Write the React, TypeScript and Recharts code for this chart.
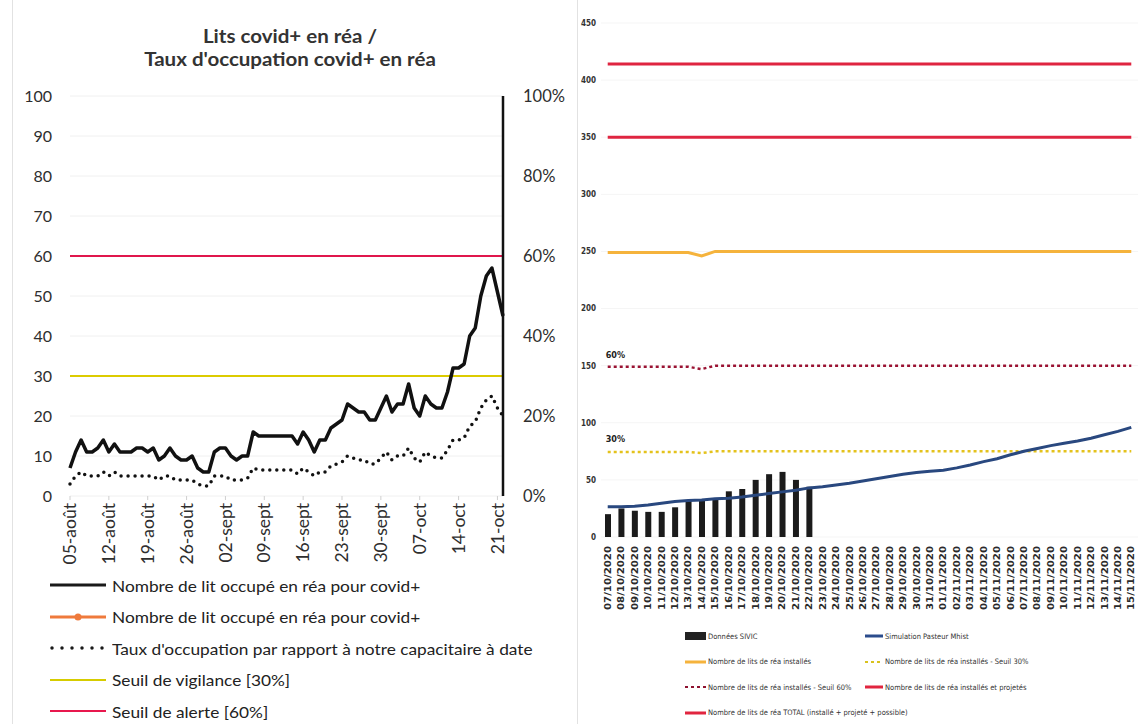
import React from "react";
import {
  Bar,
  CartesianGrid,
  ComposedChart,
  Line,
  LineChart,
  ReferenceLine,
  XAxis,
  YAxis,
} from "recharts";

// ---- graphique de gauche : lits covid+ en réa (05-août -> 22-oct)
const datesRea = [
  "05-août", "06-août", "07-août", "08-août", "09-août", "10-août", "11-août",
  "12-août", "13-août", "14-août", "15-août", "16-août", "17-août", "18-août",
  "19-août", "20-août", "21-août", "22-août", "23-août", "24-août", "25-août",
  "26-août", "27-août", "28-août", "29-août", "30-août", "31-août", "01-sept",
  "02-sept", "03-sept", "04-sept", "05-sept", "06-sept", "07-sept", "08-sept",
  "09-sept", "10-sept", "11-sept", "12-sept", "13-sept", "14-sept", "15-sept",
  "16-sept", "17-sept", "18-sept", "19-sept", "20-sept", "21-sept", "22-sept",
  "23-sept", "24-sept", "25-sept", "26-sept", "27-sept", "28-sept", "29-sept",
  "30-sept", "01-oct", "02-oct", "03-oct", "04-oct", "05-oct", "06-oct",
  "07-oct", "08-oct", "09-oct", "10-oct", "11-oct", "12-oct", "13-oct",
  "14-oct", "15-oct", "16-oct", "17-oct", "18-oct", "19-oct", "20-oct",
  "21-oct", "22-oct",
];

const litsCovid = [
  7, 11, 14, 11, 11, 12, 14, 11, 13, 11, 11, 11, 12, 12, 11, 12, 9, 10, 12, 10,
  9, 9, 10, 7, 6, 6, 11, 12, 12, 10, 9, 10, 10, 16, 15, 15, 15, 15, 15, 15,
  15, 13, 16, 14, 11, 14, 14, 17, 18, 19, 23, 22, 21, 21, 19, 19, 22, 25, 21, 23,
  23, 28, 22, 20, 25, 23, 22, 22, 26, 32, 32, 33, 40, 42, 50, 55, 57, 51, 45,
];

const tauxOccupation = [
  3, 5, 6, 5, 5, 5, 6, 5, 6, 5, 5, 5, 5, 5, 5, 5, 4, 5, 5, 4,
  4, 4, 4, 3, 2.5, 2.5, 5, 5, 5, 4, 4, 4, 4.5, 7, 6.5, 6.5, 6.5, 6.5, 6.5, 6.5,
  6.5, 5.5, 7, 6, 5, 6, 6, 7.5, 8, 8.5, 10, 9.5, 9, 9, 8, 8, 9.5, 11, 9, 10,
  10, 12, 9.5, 8.5, 11, 10, 9.5, 9.5, 11.5, 14, 14, 14.5, 17.5, 18.5, 22, 24, 25, 22, 20,
];

const seuilVigilance = 30;
const seuilAlerte = 60;
const ticksLits = [0, 10, 20, 30, 40, 50, 60, 70, 80, 90, 100];
const ticksPct = [0, 20, 40, 60, 80, 100];

const legendeGauche = [
  { label: "Nombre de lit occupé en réa pour covid+", kind: "solid", color: "#1a1a1a" },
  { label: "Nombre de lit occupé en réa pour covid+", kind: "marker", color: "#ef7a3c" },
  { label: "Taux d'occupation par rapport à notre capacitaire à date", kind: "dots", color: "#1a1a1a" },
  { label: "Seuil de vigilance [30%]", kind: "thin", color: "#d6cc00" },
  { label: "Seuil de alerte [60%]", kind: "thin", color: "#e8184e" },
];

// ---- graphique de droite : projection (07/10/2020 -> 15/11/2020)
const datesProj = [
  "07/10/2020", "08/10/2020", "09/10/2020", "10/10/2020", "11/10/2020",
  "12/10/2020", "13/10/2020", "14/10/2020", "15/10/2020", "16/10/2020",
  "17/10/2020", "18/10/2020", "19/10/2020", "20/10/2020", "21/10/2020",
  "22/10/2020", "23/10/2020", "24/10/2020", "25/10/2020", "26/10/2020",
  "27/10/2020", "28/10/2020", "29/10/2020", "30/10/2020", "31/10/2020",
  "01/11/2020", "02/11/2020", "03/11/2020", "04/11/2020", "05/11/2020",
  "06/11/2020", "07/11/2020", "08/11/2020", "09/11/2020", "10/11/2020",
  "11/11/2020", "12/11/2020", "13/11/2020", "14/11/2020", "15/11/2020",
];

const donneesSivic = [20, 25, 23, 22, 22, 26, 32, 32, 33, 40, 42, 50, 55, 57, 50, 44];

const simulationPasteur = [
  26.5, 26.5, 27, 28, 29.5, 31, 32, 32.5, 33.5, 34, 35, 36.5, 38, 39.5, 41, 43,
  44, 45.5, 47, 49, 51, 53, 55, 56.5, 57.5, 58.5, 60.5, 63, 66, 68.5, 72, 75,
  77.5, 80, 82, 84, 86.5, 89.5, 92.5, 96,
];

const litsInstalles = [
  249, 249, 249, 249, 249, 249, 249, 246, 250, 250, 250, 250, 250, 250, 250, 250,
  250, 250, 250, 250, 250, 250, 250, 250, 250, 250, 250, 250, 250, 250, 250, 250,
  250, 250, 250, 250, 250, 250, 250, 250,
];

const seuil60 = [
  149, 149, 149, 149, 149, 149, 149, 147, 150, 150, 150, 150, 150, 150, 150, 150,
  150, 150, 150, 150, 150, 150, 150, 150, 150, 150, 150, 150, 150, 150, 150, 150,
  150, 150, 150, 150, 150, 150, 150, 150,
];

const seuil30 = [
  74.5, 74.5, 74.5, 74.5, 74.5, 74.5, 74.5, 73.5, 75, 75, 75, 75, 75, 75, 75, 75,
  75, 75, 75, 75, 75, 75, 75, 75, 75, 75, 75, 75, 75, 75, 75, 75,
  75, 75, 75, 75, 75, 75, 75, 75,
];

const litsProjetes = 350;
const litsTotal = 414;
const ticksProj = [0, 50, 100, 150, 200, 250, 300, 350, 400, 450];

const legendeDroite = [
  { label: "Données SIVIC", kind: "bar", color: "#222", col: 0, row: 0 },
  { label: "Simulation Pasteur Mhist", kind: "solid", color: "#2b4c8c", col: 1, row: 0 },
  { label: "Nombre de lits de réa installés", kind: "solid", color: "#f5b33c", col: 0, row: 1 },
  { label: "Nombre de lits de réa installés - Seuil 30%", kind: "dash", color: "#d9c21e", col: 1, row: 1 },
  { label: "Nombre de lits de réa installés - Seuil 60%", kind: "dash", color: "#8e1230", col: 0, row: 2 },
  { label: "Nombre de lits de réa installés et projetés", kind: "solid", color: "#e1253f", col: 1, row: 2 },
  { label: "Nombre de lits de réa TOTAL (installé + projeté + possible)", kind: "solid", color: "#e1253f", col: 0, row: 3 },
];

const dataRea = datesRea.map((date, i) => ({
  date,
  lits: litsCovid[i],
  taux: tauxOccupation[i],
}));

const dataProj = datesProj.map((date, i) => ({
  date,
  sivic: i < donneesSivic.length ? donneesSivic[i] : null,
  simulation: simulationPasteur[i],
  installes: litsInstalles[i],
  seuil60: seuil60[i],
  seuil30: seuil30[i],
}));

function TickGauche(props: any) {
  const { x, y, payload } = props;
  return (
    <text
      x={x}
      y={y}
      transform={`rotate(-90, ${x}, ${y})`}
      textAnchor="end"
      dy="0.35em"
      fontSize={17.5}
      fill="#2e2e2e"
    >
      {payload.value}
    </text>
  );
}

function TickDroite(props: any) {
  const { x, y, payload } = props;
  return (
    <text
      x={x}
      y={y}
      transform={`rotate(-90, ${x}, ${y})`}
      textAnchor="end"
      dy="0.35em"
      fontSize={9}
      fontWeight="bold"
      fontFamily="'DejaVu Sans Condensed', 'DejaVu Sans', sans-serif"
      textLength={64}
      lengthAdjust="spacingAndGlyphs"
      fill="#2a2a2a"
    >
      {payload.value}
    </text>
  );
}

function LegendSymbol({ kind, color, width }: { kind: string; color: string; width: number }) {
  return (
    <svg width={width} height={12} style={{ display: "block" }}>
      {kind === "solid" && <line x1={0} x2={width} y1={6} y2={6} stroke={color} strokeWidth={3} />}
      {kind === "thin" && <line x1={0} x2={width} y1={6} y2={6} stroke={color} strokeWidth={2} />}
      {kind === "marker" && (
        <>
          <line x1={0} x2={width} y1={6} y2={6} stroke={color} strokeWidth={3} />
          <circle cx={width / 2} cy={6} r={3.5} fill={color} />
        </>
      )}
      {kind === "dots" && (
        <line x1={2} x2={width} y1={6} y2={6} stroke={color} strokeWidth={3.5}
          strokeDasharray="0 10" strokeLinecap="round" />
      )}
      {kind === "dash" && (
        <line x1={0} x2={width} y1={6} y2={6} stroke={color} strokeWidth={2} strokeDasharray="3 3" />
      )}
      {kind === "bar" && <rect x={0} y={2} width={width} height={8} fill={color} />}
    </svg>
  );
}

function Label60(props: any) {
  const { x, y, index } = props;
  if (index !== 0) return null;
  return (
    <text x={x - 2} y={y - 9} fontSize={9} fontWeight="bold" fill="#222"
      fontFamily="'DejaVu Sans Condensed', sans-serif">
      60%
    </text>
  );
}

function Label30(props: any) {
  const { x, y, index } = props;
  if (index !== 0) return null;
  return (
    <text x={x - 2} y={y - 10} fontSize={9} fontWeight="bold" fill="#222"
      fontFamily="'DejaVu Sans Condensed', sans-serif">
      30%
    </text>
  );
}

export default function App() {
  return (
    <div
      style={{
        position: "absolute",
        left: 0,
        top: 0,
        width: 1138,
        height: 724,
        overflow: "hidden",
        background: "#fff",
        fontFamily: "Lato, 'Open Sans', sans-serif",
      }}
    >
      <div style={{ position: "absolute", left: 12, top: 0, width: 1, height: 724, background: "#e2e2e2" }} />
      <div style={{ position: "absolute", left: 577, top: 0, width: 1, height: 724, background: "#e2e2e2" }} />

      {/* titre */}
      <div
        style={{
          position: "absolute",
          left: 90,
          top: 24,
          width: 400,
          textAlign: "center",
          fontSize: 19,
          fontWeight: 700,
          lineHeight: "23px",
          color: "#333",
          transform: "scaleX(1.08)",
        }}
      >
        Lits covid+ en réa /
        <br />
        Taux d'occupation covid+ en réa
      </div>

      <div style={{ position: "absolute", left: 0, top: 0 }}>
        <LineChart
          width={600}
          height={570}
          data={dataRea}
          margin={{ top: 96, right: 30, bottom: 4, left: 10 }}
        >
          <CartesianGrid yAxisId="lits" vertical={false} stroke="#f0f0f0" />
          <XAxis
            dataKey="date"
            scale="point"
            padding={{ left: 0, right: 0 }}
            interval={6}
            height={70}
            axisLine={false}
            tickLine={{ stroke: "#cfcfcf" }}
            tickSize={4}
            tickMargin={3}
            tick={<TickGauche />}
          />
          <YAxis
            yAxisId="lits"
            domain={[0, 100]}
            ticks={ticksLits}
            width={60}
            axisLine={false}
            tickLine={false}
            tickSize={0}
            tickMargin={18}
            tick={{ fontSize: 16, fill: "#2e2e2e" }}
          />
          <YAxis
            yAxisId="pct"
            orientation="right"
            domain={[0, 100]}
            ticks={ticksPct}
            tickFormatter={(v) => `${v}%`}
            width={67}
            axisLine={{ stroke: "#111", strokeWidth: 2.5 }}
            tickLine={false}
            tickSize={0}
            tickMargin={20}
            tick={{ fontSize: 16.5, fill: "#2e2e2e" }}
          />
          <ReferenceLine yAxisId="lits" y={seuilAlerte} stroke="#e0174c" strokeWidth={2} />
          <ReferenceLine yAxisId="lits" y={seuilVigilance} stroke="#dccb00" strokeWidth={2} />
          <Line
            yAxisId="pct"
            dataKey="taux"
            stroke="#111"
            strokeWidth={3.5}
            strokeDasharray="0 7"
            strokeLinecap="round"
            dot={false}
            isAnimationActive={false}
          />
          <Line
            yAxisId="lits"
            dataKey="lits"
            stroke="#111"
            strokeWidth={3.5}
            strokeLinejoin="round"
            dot={false}
            isAnimationActive={false}
          />
        </LineChart>
      </div>

      {/* légende gauche */}
      {legendeGauche.map((item, i) => (
        <div
          key={i}
          style={{
            position: "absolute",
            left: 50,
            top: 575 + i * 31.5,
            height: 20,
            display: "flex",
            alignItems: "center",
            fontSize: 16,
            color: "#222",
            whiteSpace: "nowrap",
          }}
        >
          <LegendSymbol kind={item.kind} color={item.color} width={56} />
          <span
            style={{
              marginLeft: 6,
              display: "inline-block",
              transform: "scaleX(1.08)",
              transformOrigin: "left center",
            }}
          >
            {item.label}
          </span>
        </div>
      ))}

      {/* graphique de droite */}
      <div style={{ position: "absolute", left: 578, top: 0 }}>
        <ComposedChart
          width={560}
          height={620}
          data={dataProj}
          margin={{ top: 23, right: 0, bottom: 3, left: 0 }}
        >
          <CartesianGrid vertical={false} stroke="#f5f5f5" />
          <XAxis
            dataKey="date"
            interval={0}
            height={80}
            axisLine={false}
            tickLine={false}
            tickSize={0}
            tickMargin={9}
            tick={<TickDroite />}
          />
          <YAxis
            domain={[0, 450]}
            ticks={ticksProj}
            width={23}
            axisLine={false}
            tickLine={false}
            tickSize={0}
            tickMargin={5}
            tick={{
              fontSize: 8,
              fill: "#333",
              fontWeight: "bold",
              fontFamily: "'DejaVu Sans Condensed', sans-serif",
            }}
          />
          <ReferenceLine
            segment={[
              { x: datesProj[0], y: litsTotal },
              { x: datesProj[datesProj.length - 1], y: litsTotal },
            ]}
            stroke="#df2540"
            strokeWidth={3}
          />
          <ReferenceLine
            segment={[
              { x: datesProj[0], y: litsProjetes },
              { x: datesProj[datesProj.length - 1], y: litsProjetes },
            ]}
            stroke="#df2540"
            strokeWidth={3}
          />
          <Bar dataKey="sivic" barSize={6} fill="#1b1b1b" isAnimationActive={false} />
          <Line
            dataKey="installes"
            stroke="#f5b33c"
            strokeWidth={3}
            dot={false}
            isAnimationActive={false}
          />
          <Line
            dataKey="seuil60"
            stroke="#9a1232"
            strokeWidth={2.5}
            strokeDasharray="3 3"
            dot={false}
            label={<Label60 />}
            isAnimationActive={false}
          />
          <Line
            dataKey="seuil30"
            stroke="#e4c21c"
            strokeWidth={2.5}
            strokeDasharray="3 3"
            dot={false}
            label={<Label30 />}
            isAnimationActive={false}
          />
          <Line
            dataKey="simulation"
            stroke="#29487f"
            strokeWidth={3}
            dot={false}
            isAnimationActive={false}
          />
        </ComposedChart>
      </div>

      {/* légende droite */}
      {legendeDroite.map((item, i) => (
        <div
          key={i}
          style={{
            position: "absolute",
            left: item.col === 0 ? 685 : 865,
            top: 630 + item.row * 25.5,
            height: 12,
            display: "flex",
            alignItems: "center",
            fontSize: 7.5,
            color: "#333",
            whiteSpace: "nowrap",
            fontFamily: "'Liberation Sans Narrow', 'DejaVu Sans Condensed', sans-serif",
          }}
        >
          <LegendSymbol kind={item.kind} color={item.color} width={item.col === 0 ? 21 : 18} />
          <span style={{ marginLeft: 2 }}>{item.label}</span>
        </div>
      ))}
    </div>
  );
}
